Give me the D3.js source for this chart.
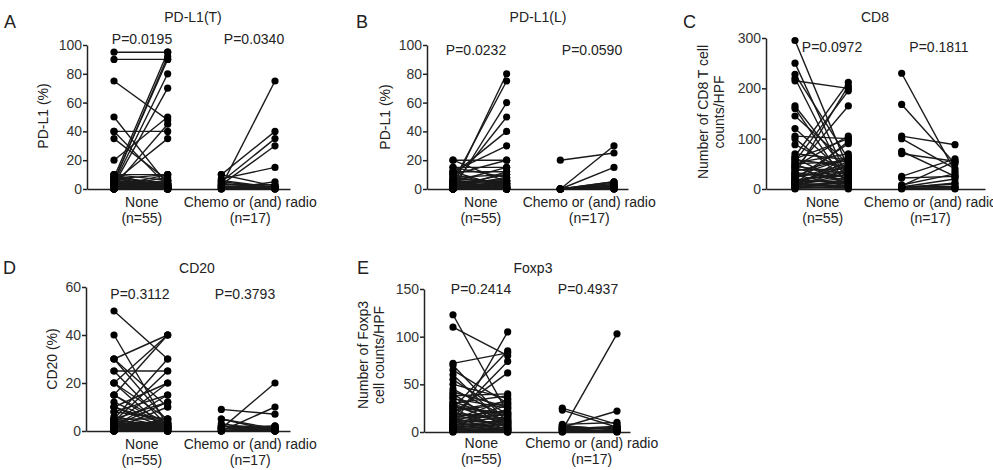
<!DOCTYPE html>
<html>
<head>
<meta charset="utf-8">
<script src="https://cdn.jsdelivr.net/npm/d3@7"></script>
<style>
  body { margin: 0; background: #fff; }
  text { font-family: "Liberation Sans", Arial, Helvetica, sans-serif; fill: #222; }
</style>
</head>
<body>
<div id="vis"></div>
<script>
// paired values [before, after]
const aNone = [[95,95],[90,90],[75,48],[50,3],[40,40],[40,2],[35,6],[20,50],[10,10],[8,95],[5,92],[6,90],[4,80],[3,70],[2,45],[5,35],[10,1],[8,0],[7,2],[6,3],[5,1],[5,0],[4,4],[4,2],[3,1],[3,0],[3,5],[2,2],[2,1],[2,0],[1,1],[1,0],[1,3],[0,0],[0,1],[0,2],[0,0],[10,6],[7,10],[2,8],[9,1],[6,0],[1,2],[0,3],[3,3],[2,6],[8,4],[4,0],[1,5],[0,1],[5,2],[2,10],[0,0],[1,1],[3,2]];
const aChemo = [[2,75],[10,40],[5,35],[3,30],[7,15],[0,5],[10,2],[5,1],[4,0],[2,2],[1,0],[0,1],[3,3],[1,1],[0,0],[2,0],[6,1]];

const bNone = [[2,80],[5,75],[0,60],[3,50],[10,40],[12,30],[20,20],[15,15],[20,5],[15,8],[12,12],[10,20],[5,15],[3,10],[8,3],[5,5],[4,2],[3,0],[2,1],[1,0],[0,0],[0,2],[1,5],[2,8],[4,6],[5,1],[6,0],[0,1],[0,3],[1,1],[2,2],[3,4],[4,0],[0,0],[1,2],[2,0],[10,2],[12,1],[8,10],[6,4],[0,12],[0,0],[1,3],[3,1],[5,0],[2,4],[0,6],[4,1],[1,0],[0,1],[7,5],[2,3],[3,7],[0,0],[1,1]];
const bChemo = [[20,25],[0,30],[0,15],[0,5],[0,4],[0,3],[0,2],[0,1],[0,0],[0,3],[0,2],[0,1],[0,0],[0,0],[0,5],[0,1],[0,0]];

const cNone = [[295,40],[250,20],[228,60],[220,10],[215,200],[165,30],[160,5],[145,50],[120,25],[105,100],[100,15],[88,35],[65,212],[55,195],[40,165],[30,205],[20,90],[45,105],[60,100],[10,95],[5,65],[62,8],[58,45],[50,55],[48,20],[45,30],[42,12],[38,40],[35,60],[33,18],[30,25],[28,5],[25,35],[22,50],[20,10],[18,28],[15,15],[14,45],[12,3],[10,22],[9,12],[8,55],[7,30],[6,8],[5,2],[4,40],[3,14],[2,6],[1,20],[0,0],[70,58],[52,70],[26,62],[17,33],[11,48]];
const cChemo = [[230,35],[168,50],[105,88],[100,40],[75,25],[70,55],[25,60],[22,25],[8,30],[5,5],[3,10],[2,2],[0,0],[4,20],[1,3],[6,55],[2,12]];

const dNone = [[50,30],[40,2],[30,40],[30,10],[25,25],[20,5],[20,40],[15,40],[15,1],[10,20],[10,3],[8,15],[5,30],[5,12],[4,25],[3,20],[2,15],[1,10],[20,0],[25,2],[30,4],[15,3],[10,1],[8,5],[5,1],[4,0],[3,2],[2,1],[1,0],[0,2],[2,4],[3,0],[1,3],[0,1],[5,5],[2,2],[1,1],[0,0],[3,1],[4,3],[2,0],[1,2],[0,3],[6,2],[2,12],[1,5],[0,1],[3,3],[12,2],[2,1],[1,0],[0,0],[4,1],[1,1],[2,3]];
const dChemo = [[9,7],[5,1],[1,20],[0,10],[5,0],[2,2],[1,1],[0,0],[2,1],[3,0],[1,2],[0,1],[1,0],[2,0],[0,2],[1,1],[0,0]];

const eNone = [[123,20],[110,80],[72,83],[70,10],[65,30],[60,5],[50,35],[45,15],[40,3],[5,105],[15,74],[20,62],[25,85],[38,40],[35,25],[32,12],[30,38],[28,8],[26,20],[24,2],[22,30],[20,14],[18,6],[16,22],[15,0],[14,18],[12,10],[11,28],[10,4],[9,16],[8,1],[7,12],[6,24],[5,8],[4,2],[3,14],[2,5],[1,0],[0,3],[42,26],[36,10],[30,6],[27,17],[23,32],[19,12],[13,34],[10,20],[8,7],[6,3],[4,11],[3,1],[2,9],[1,2],[0,0],[55,18]];
const eChemo = [[2,103],[25,8],[23,5],[5,22],[8,10],[6,3],[3,6],[2,1],[1,2],[0,0],[4,4],[7,2],[3,0],[1,5],[0,1],[5,3],[2,2]];

const pctTicks = [0, 20, 40, 60, 80, 100];
const cd8Ticks = [0, 100, 200, 300];
const cd20Ticks = [0, 20, 40, 60];
const foxTicks = [0, 50, 100, 150];

const groups = ["None", "Chemo or (and) radio"];
const groupN = ["(n=55)", "(n=17)"];

const panels = [
  { letter: "A", title: "PD-L1(T)", yLabel: ["PD-L1 (%)"], ticks: pctTicks, p: ["P=0.0195", "P=0.0340"], none: aNone, chemo: aChemo,
    ax: 87, axEnd: 290, y0: 189, yTop: 45, c0: 114, c1: 275, lx: 4, ly: 28, tx: 193, ty: 22, py: 44, px: [142, 254], ylx: 43, yly: 116, cy: 207 },
  { letter: "B", title: "PD-L1(L)", yLabel: ["PD-L1 (%)"], ticks: pctTicks, p: ["P=0.0232", "P=0.0590"], none: bNone, chemo: bChemo,
    ax: 427, axEnd: 628, y0: 189, yTop: 45, c0: 453, c1: 614, lx: 356, ly: 28, tx: 538, ty: 22, py: 55, px: [476, 592], ylx: 385, yly: 117, cy: 207 },
  { letter: "C", title: "CD8", yLabel: ["Number of CD8 T cell", "counts/HPF"], ticks: cd8Ticks, p: ["P=0.0972", "P=0.1811"], none: cNone, chemo: cChemo,
    ax: 766, axEnd: 985, y0: 189, yTop: 38, c0: 795, c1: 955, lx: 683, ly: 28, tx: 875, ty: 22, py: 52, px: [832, 939], ylx: 708, yly: 112, cy: 207 },
  { letter: "D", title: "CD20", yLabel: ["CD20 (%)"], ticks: cd20Ticks, p: ["P=0.3112", "P=0.3793"], none: dNone, chemo: dChemo,
    ax: 86, axEnd: 290, y0: 431, yTop: 287, c0: 114, c1: 275, lx: 3, ly: 274, tx: 197, ty: 273, py: 299, px: [140, 245], ylx: 52, yly: 359, cy: 449 },
  { letter: "E", title: "Foxp3", yLabel: ["Number of Foxp3", "cell counts/HPF"], ticks: foxTicks, p: ["P=0.2414", "P=0.4937"], none: eNone, chemo: eChemo,
    ax: 424, axEnd: 630, y0: 432, yTop: 289, c0: 453, c1: 617, lx: 357, ly: 274, tx: 533, ty: 273, py: 294, px: [481, 588], ylx: 368, yly: 355, cy: 448 }
];

const svg = d3.select("#vis").append("svg").attr("width", 993).attr("height", 470);

panels.forEach(p => {
  const g = svg.append("g");

  const y = d3.scaleLinear()
    .domain([0, d3.max(p.ticks)])
    .range([p.y0, p.yTop]);

  const x = d3.scalePoint()
    .domain(["n0", "n1", "c0", "c1"])
    .range([p.c0, p.c1]);

  // y axis
  const yAxis = g.append("g")
    .attr("transform", "translate(" + p.ax + ",0)")
    .call(d3.axisLeft(y).tickValues(p.ticks).tickSize(4).tickSizeOuter(0).tickPadding(1));
  yAxis.select(".domain").attr("stroke", "#222").attr("stroke-width", 1.5);
  yAxis.selectAll(".tick line").attr("stroke", "#222").attr("stroke-width", 1.5);
  yAxis.selectAll(".tick text").attr("font-size", 14).attr("font-family", null).style("fill", "#333");

  // baseline
  const xb = d3.scaleLinear().domain([0, 1]).range([p.ax, p.axEnd]);
  const xAxis = g.append("g")
    .attr("transform", "translate(0," + p.y0 + ")")
    .call(d3.axisBottom(xb).tickValues([]).tickSizeOuter(0));
  xAxis.select(".domain").attr("stroke", "#222").attr("stroke-width", 1.5);

  // paired lines then points
  const sets = [[p.none, "n0", "n1"], [p.chemo, "c0", "c1"]];
  sets.forEach(([data, k0, k1]) => {
    g.selectAll(null)
      .data(data)
      .enter()
      .append("line")
        .attr("x1", x(k0))
        .attr("x2", x(k1))
        .attr("y1", d => y(d[0]))
        .attr("y2", d => y(d[1]))
        .attr("stroke", "#1a1a1a")
        .attr("stroke-width", 1.4);
  });
  sets.forEach(([data, k0, k1]) => {
    [0, 1].forEach(i => {
      g.selectAll(null)
        .data(data)
        .enter()
        .append("circle")
          .attr("cx", i === 0 ? x(k0) : x(k1))
          .attr("cy", d => y(d[i]))
          .attr("r", 3.6)
          .attr("fill", "#000");
    });
  });

  // category labels
  const centers = [(x("n0") + x("n1")) / 2 + 1, (x("c0") + x("c1")) / 2 + 2];
  centers.forEach((cx, i) => {
    g.append("text").attr("x", cx).attr("y", p.cy).attr("text-anchor", "middle")
      .attr("font-size", 14).text(groups[i]);
    g.append("text").attr("x", cx).attr("y", p.cy + 16).attr("text-anchor", "middle")
      .attr("font-size", 14).text(groupN[i]);
  });

  // p values
  p.p.forEach((t, i) => {
    g.append("text").attr("x", p.px[i]).attr("y", p.py).attr("text-anchor", "middle")
      .attr("font-size", 14).text(t);
  });

  // title and letter
  g.append("text").attr("x", p.tx).attr("y", p.ty).attr("text-anchor", "middle")
    .attr("font-size", 14).text(p.title);
  g.append("text").attr("x", p.lx).attr("y", p.ly)
    .attr("font-size", 18).text(p.letter);

  // y label
  const yl = g.append("text")
    .attr("transform", "translate(" + p.ylx + "," + p.yly + ") rotate(-90)")
    .attr("text-anchor", "middle")
    .attr("font-size", 14);
  p.yLabel.forEach((t, i) => {
    yl.append("tspan").attr("x", 0).attr("dy", i === 0 ? (p.yLabel.length > 1 ? 0 : 5) : 16).text(t);
  });
});
</script>
</body>
</html>
